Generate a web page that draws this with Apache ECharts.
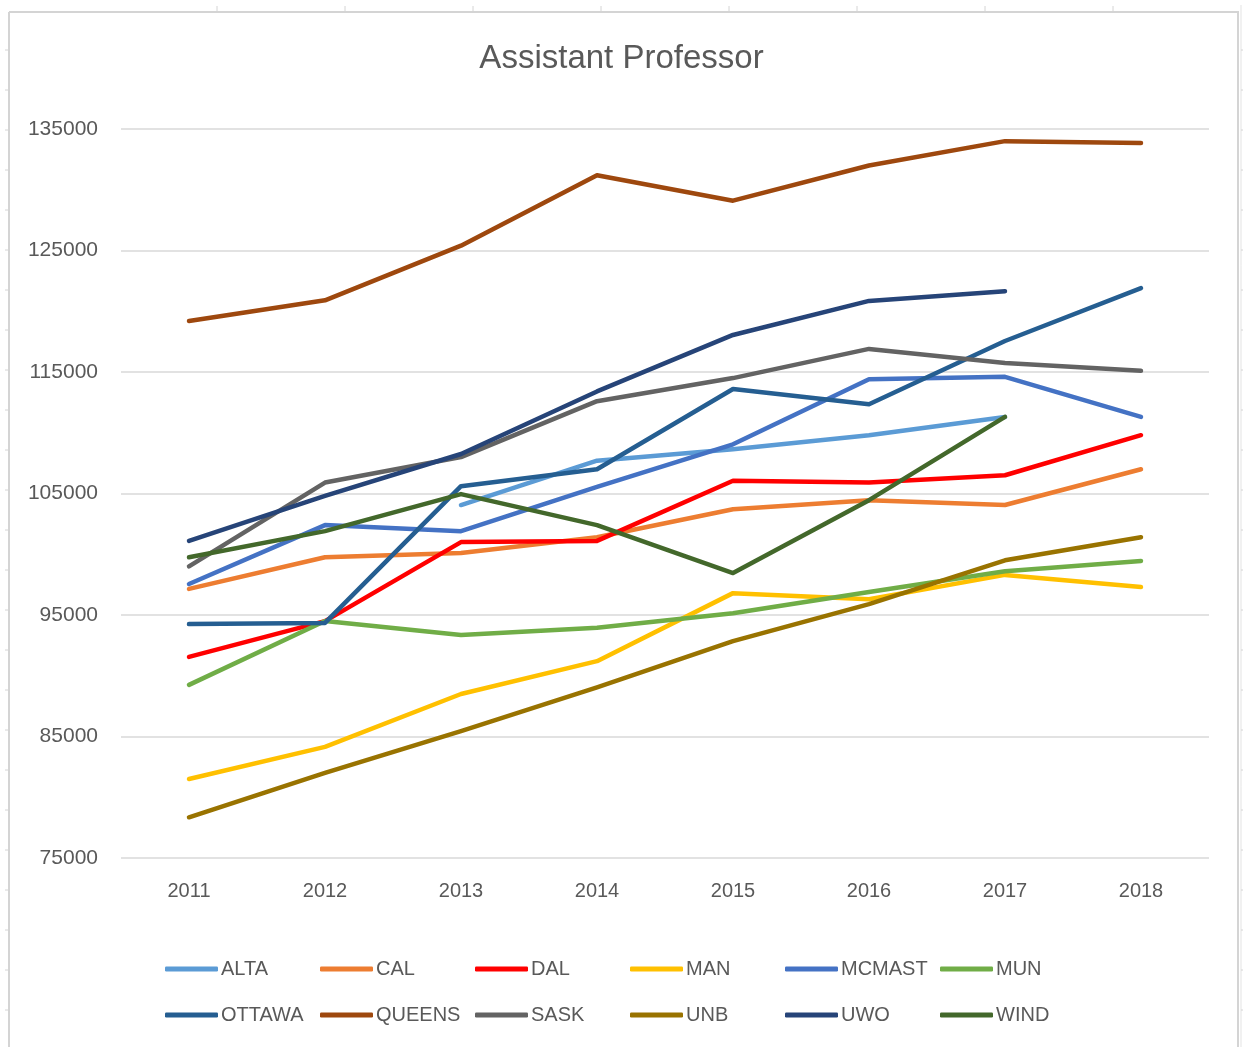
<!DOCTYPE html>
<html>
<head>
<meta charset="utf-8">
<script src="https://cdn.jsdelivr.net/npm/echarts@6/dist/echarts.min.js"></script>
<style>html,body{margin:0;padding:0;background:#fff;}#c{width:1243px;height:1047px;}</style>
</head>
<body>
<div id="c"></div>
<script>
const years = ['2011','2012','2013','2014','2015','2016','2017','2018'];
const ALTA   = [null, null, 104050, 107700, 108650, 109800, 111300, null];
const CAL    = [97150, 99750, 100100, 101400, 103700, 104450, 104050, 107000];
const DAL    = [91550, 94500, 101000, 101100, 106050, 105900, 106500, 109800];
const MAN    = [81500, 84150, 88500, 91200, 96800, 96300, 98300, 97300];
const MCMAST = [97550, 102400, 101900, 105550, 109050, 114400, 114600, 111300];
const MUN    = [89250, 94500, 93350, 93950, 95150, 96900, 98600, 99450];
const OTTAWA = [94250, 94350, 105600, 107000, 113600, 112350, 117550, 121900];
const QUEENS = [119200, 120900, 125400, 131200, 129100, 132000, 134000, 133850];
const SASK   = [99000, 105900, 108000, 112600, 114500, 116900, 115750, 115100];
const UNB    = [78350, 82000, 85450, 89050, 92850, 95900, 99500, 101400];
const UWO    = [101100, 104800, 108250, 113400, 118050, 120850, 121650, null];
const WIND   = [99750, 101900, 104950, 102400, 98450, 104450, 111300, null];
const yTicks = [75000, 85000, 95000, 105000, 115000, 125000, 135000];

const seriesNames = ['ALTA','CAL','DAL','MAN','MCMAST','MUN','OTTAWA','QUEENS','SASK','UNB','UWO','WIND'];
const seriesData = [ALTA, CAL, DAL, MAN, MCMAST, MUN, OTTAWA, QUEENS, SASK, UNB, UWO, WIND];
const colors = ['#5B9BD5','#ED7D31','#FF0000','#FFC000','#4472C4','#70AD47','#255E91','#9E480E','#636363','#997300','#264478','#43682B'];

const chart = echarts.init(document.getElementById('c'), null, {renderer:'canvas'});

const series = seriesNames.map((n,i)=>({
  name:n, type:'line', data:seriesData[i], showSymbol:false, symbol:'none',
  connectNulls:false, z: 2+i,
  lineStyle:{color:colors[i], width:4.5, cap:'round', join:'round'},
  itemStyle:{color:colors[i]}
}));

// 12 legends in a fixed 6-column grid
const legends = seriesNames.map((n,i)=>({
  data:[n], left: 165 + (i%6)*155, top: i<6 ? 959 : 1005, padding:0,
  itemWidth:53, itemHeight:5, icon:'roundRect', itemGap:0,
  textStyle:{color:'#595959', fontSize:20, fontFamily:'Liberation Sans', padding:[0,0,0,-2]},
  selectedMode:false
}));

// spreadsheet frame
const g = [];
const frame = '#D4D4D4';
g.push({type:'line', shape:{x1:9,y1:12,x2:1239,y2:12}, style:{stroke:frame, lineWidth:2}});
g.push({type:'line', shape:{x1:9,y1:12,x2:9,y2:1047}, style:{stroke:frame, lineWidth:2}});
g.push({type:'line', shape:{x1:1238,y1:12,x2:1238,y2:1047}, style:{stroke:frame, lineWidth:2}});
g.push({type:'line', shape:{x1:1241,y1:5,x2:1241,y2:1047}, style:{stroke:'#E3E3E3', lineWidth:1}});
for (let y=50; y<1047; y+=40){
  g.push({type:'line', shape:{x1:5,y1:y,x2:9,y2:y}, style:{stroke:frame, lineWidth:1}});
  g.push({type:'line', shape:{x1:1241,y1:y,x2:1243,y2:y}, style:{stroke:frame, lineWidth:1}});
}
for (let x=217; x<1240; x+=128){
  g.push({type:'line', shape:{x1:x,y1:6,x2:x,y2:12}, style:{stroke:frame, lineWidth:1}});
}

chart.setOption({
  backgroundColor:'#ffffff',
  animation:false,
  title:{text:'Assistant Professor', left:'center', top:37,
    textStyle:{color:'#595959', fontSize:33, fontWeight:'normal', fontFamily:'Liberation Sans'}},
  legend: legends,
  grid:{left:121, right:34, top:129, bottom:189, containLabel:false},
  xAxis:{type:'category', data:years, boundaryGap:true,
    axisLine:{show:false}, axisTick:{show:false},
    axisLabel:{color:'#595959', fontSize:20, fontFamily:'Liberation Sans', margin:23}},
  yAxis:{type:'value', min:yTicks[0], max:yTicks[yTicks.length-1], interval:10000,
    axisLine:{show:false}, axisTick:{show:false},
    splitLine:{lineStyle:{color:'#D9D9D9', width:1.5}},
    axisLabel:{color:'#595959', fontSize:21, fontFamily:'Liberation Sans', margin:23,
      formatter: v => String(v)}},
  graphic: g,
  series: series
});
</script>
</body>
</html>
